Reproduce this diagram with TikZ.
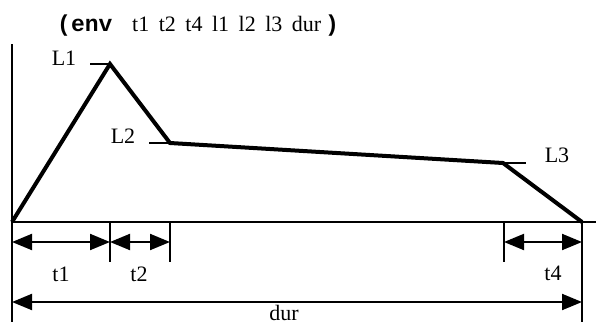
\documentclass[tikz,border=0pt]{standalone}
\usepackage{fontspec}
\setmainfont{Liberation Serif}
\setmonofont{Liberation Mono}
\usetikzlibrary{arrows.meta}
\newcommand\wgap{\hspace{9.5pt}}
\begin{document}
\begin{tikzpicture}[x=1pt,y=-1pt,
  lbl/.style={font=\fontsize{22}{22}\selectfont, inner sep=0pt},
  ttl/.style={font=\fontsize{22}{22}\selectfont, inner sep=0pt},
  mono/.style={font=\fontsize{23}{23}\selectfont\ttfamily\bfseries, inner sep=0pt},
  axis/.style={line width=2pt},
  env/.style={line width=4pt, line join=miter},
  tickl/.style={line width=2pt},
  dim/.style={line width=2pt, {Triangle[length=20pt,width=16pt]}-{Triangle[length=20pt,width=16pt]}}]
\useasboundingbox (0,0) rectangle (596,324);
% title
\node[mono, anchor=base west] (tl) at (57,31) {(env};
\node[ttl, anchor=base west] (targs) at (132,31) {t1\wgap t2\wgap t4\wgap l1\wgap l2\wgap l3\wgap dur};
\node[mono, anchor=base west] (tr) at (325,31) {)};
% axes
\coordinate (o) at (12,222);
\coordinate (ytop) at (12,44);
\coordinate (ybot) at (12,322);
\coordinate (xend) at (596,222);
\draw[axis] (ytop) -- (ybot);
\draw[axis] (o) -- (xend);
% envelope points
\coordinate (p1) at (110,64);
\coordinate (p2) at (170,143);
\coordinate (p3) at (503,163);
\coordinate (p4) at (582,222);
\draw[env] (o) -- (p1) -- (p2) -- (p3) -- (p4);
% level ticks
\coordinate (l1s) at (90,64);
\coordinate (l2s) at (149,143);
\coordinate (l3e) at (526,163);
\draw[tickl] (l1s) -- (p1);
\draw[tickl] (l2s) -- (p2);
\draw[tickl] (p3) -- (l3e);
\node[lbl, anchor=base] (L1) at (64,65) {L1};
\node[lbl, anchor=base] (L2) at (123,143) {L2};
\node[lbl, anchor=base] (L3) at (557,162) {L3};
% vertical dimension lines
\coordinate (v1t) at (110,222); \coordinate (v1b) at (110,262);
\coordinate (v2t) at (170,222); \coordinate (v2b) at (170,262);
\coordinate (v3t) at (504,222); \coordinate (v3b) at (504,262);
\coordinate (v4t) at (582,222); \coordinate (v4b) at (582,322);
\draw[tickl] (v1t) -- (v1b);
\draw[tickl] (v2t) -- (v2b);
\draw[tickl] (v3t) -- (v3b);
\draw[tickl] (v4t) -- (v4b);
% dimension arrows
\coordinate (a0) at (12,242); \coordinate (a1) at (110,242);
\coordinate (a2) at (170,242); \coordinate (a3) at (504,242);
\coordinate (a4) at (582,242);
\draw[dim] (a0) -- (a1);
\draw[dim] (a1) -- (a2);
\draw[dim] (a3) -- (a4);
\coordinate (d0) at (12,302); \coordinate (d1) at (582,302);
\draw[dim] (d0) -- (d1);
\node[lbl, anchor=base] (t1) at (61,281) {t1};
\node[lbl, anchor=base] (t2) at (139,281) {t2};
\node[lbl, anchor=base] (t4) at (553,280) {t4};
\node[lbl, anchor=base] (dur) at (284,320) {dur};
\end{tikzpicture}
\end{document}
